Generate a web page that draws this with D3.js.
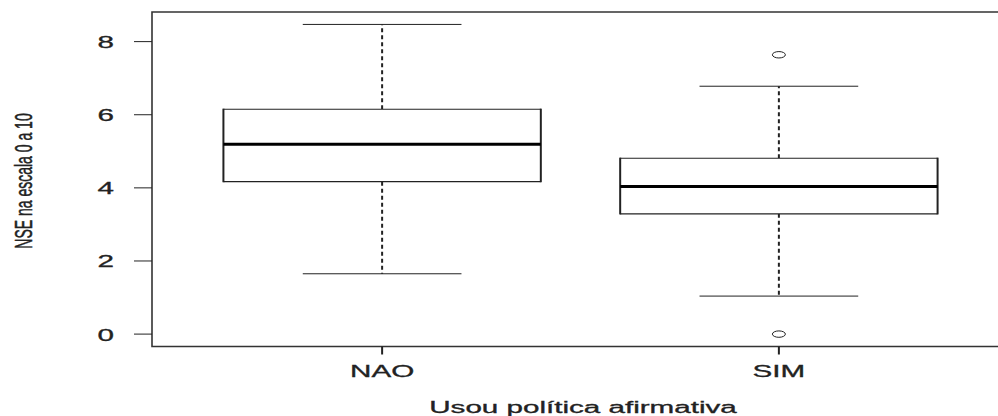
<!DOCTYPE html>
<html><head><meta charset="utf-8">
<script src="https://cdn.jsdelivr.net/npm/d3@7"></script>
<style>html,body{margin:0;padding:0;background:#fff;overflow:hidden;}svg{display:block;}</style>
</head><body><svg id="c" width="998" height="416"></svg>
<script>
const categories = ["NAO", "SIM"];
const whiskerLow = [1.65, 1.04];
const q1 = [4.17, 3.29];
const median = [5.19, 4.04];
const q3 = [6.15, 4.81];
const whiskerHigh = [8.47, 6.78];
const outliers = [[], [7.64, 0.0]];
const yTicks = [0, 2, 4, 6, 8];
const xTitle = "Usou política afirmativa";
const yTitle = "NSE na escala 0 a 10";

const svg = d3.select("#c");
const SX = 1.85;
const x = d3.scaleLinear().domain([0.42, 2.58]).range([152, 1009]);
const y = d3.scaleLinear().domain([-0.339, 8.81]).range([346.5, 12]);
const ink = "#222";
const font = "Liberation Sans, Arial, sans-serif";

const boxW = 0.8, capW = 0.4;
const data = categories.map((c, i) => ({c, i: i + 1, lo: whiskerLow[i], q1: q1[i], med: median[i], q3: q3[i], hi: whiskerHigh[i], out: outliers[i]}));

const g = svg.append("g");
data.forEach(d => {
  g.append("line").attr("x1", x(d.i)).attr("x2", x(d.i)).attr("y1", y(d.q3)).attr("y2", y(d.hi))
    .attr("stroke", ink).attr("stroke-width", 2).attr("stroke-dasharray", "4,3");
  g.append("line").attr("x1", x(d.i)).attr("x2", x(d.i)).attr("y1", y(d.q1)).attr("y2", y(d.lo))
    .attr("stroke", ink).attr("stroke-width", 2).attr("stroke-dasharray", "4,3");
  [d.lo, d.hi].forEach(v => {
    g.append("line").attr("x1", x(d.i - capW / 2)).attr("x2", x(d.i + capW / 2)).attr("y1", y(v)).attr("y2", y(v))
      .attr("stroke", ink).attr("stroke-width", 1);
  });
  g.append("rect").attr("x", x(d.i - boxW / 2)).attr("y", y(d.q3)).attr("width", x(d.i + boxW / 2) - x(d.i - boxW / 2))
    .attr("height", y(d.q1) - y(d.q3)).attr("fill", "#fff").attr("stroke", "none");
  [d.q1, d.q3].forEach(v => {
    g.append("line").attr("x1", x(d.i - boxW / 2)).attr("x2", x(d.i + boxW / 2)).attr("y1", y(v)).attr("y2", y(v))
      .attr("stroke", ink).attr("stroke-width", 1.2);
  });
  [d.i - boxW / 2, d.i + boxW / 2].forEach(v => {
    g.append("line").attr("x1", x(v)).attr("x2", x(v)).attr("y1", y(d.q1) + 0.6).attr("y2", y(d.q3) - 0.6)
      .attr("stroke", ink).attr("stroke-width", 2);
  });
  g.append("line").attr("x1", x(d.i - boxW / 2)).attr("x2", x(d.i + boxW / 2)).attr("y1", y(d.med)).attr("y2", y(d.med))
    .attr("stroke", "#000").attr("stroke-width", 3);
  d.out.forEach(v => {
    g.append("ellipse").attr("cx", x(d.i)).attr("cy", y(v)).attr("rx", 6.5).attr("ry", 3.2)
      .attr("fill", "none").attr("stroke", ink).attr("stroke-width", 1);
  });
});

// frame (right side lies outside the picture)
const L = x(0.42), R = x(2.58), T = y(8.81), B = y(-0.339);
svg.append("path").attr("d", `M${R},${T}H${L}V${B}H${R}`)
  .attr("fill", "none").attr("stroke", "#333").attr("stroke-width", 1.6);

const yAx = svg.append("g");
yTicks.forEach(t => {
  yAx.append("line").attr("x1", 134).attr("x2", L).attr("y1", y(t)).attr("y2", y(t)).attr("stroke", ink).attr("stroke-width", 1);
  yAx.append("text").attr("transform", `translate(114,${y(t) + 6.5}) scale(${SX},1)`)
    .attr("text-anchor", "end").attr("font-family", font).attr("font-size", 16).attr("fill", ink)
    .attr("stroke", ink).attr("stroke-width", 0.3).text(t);
});

data.forEach(d => {
  svg.append("line").attr("x1", x(d.i)).attr("x2", x(d.i)).attr("y1", B).attr("y2", B + 8).attr("stroke", ink).attr("stroke-width", 2);
  svg.append("text").attr("transform", `translate(${x(d.i)},377) scale(${SX},1)`).attr("text-anchor", "middle")
    .attr("font-family", font).attr("font-size", 16).attr("fill", ink)
    .attr("stroke", ink).attr("stroke-width", 0.3).text(d.c);
});

svg.append("text").attr("transform", `translate(583,413) scale(${SX},1)`).attr("text-anchor", "middle")
  .attr("font-family", font).attr("font-size", 16).attr("fill", ink)
  .attr("stroke", ink).attr("stroke-width", 0.3).text(xTitle);

svg.append("text").attr("transform", `translate(32,181) scale(1.7,1) rotate(-90)`).attr("text-anchor", "middle")
  .attr("font-family", font).attr("font-size", 14).attr("fill", ink)
  .attr("stroke", ink).attr("stroke-width", 0.3).text(yTitle);
</script></body></html>
